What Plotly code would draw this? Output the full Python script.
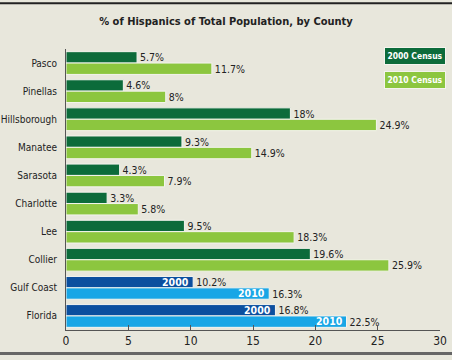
import plotly.graph_objects as go

counties = ["Pasco", "Pinellas", "Hillsborough", "Manatee", "Sarasota",
            "Charlotte", "Lee", "Collier", "Gulf Coast", "Florida"]
pct_2000 = [5.7, 4.6, 18, 9.3, 4.3, 3.3, 9.5, 19.6, 10.2, 16.8]
pct_2010 = [11.7, 8, 24.9, 14.9, 7.9, 5.8, 18.3, 25.9, 16.3, 22.5]
lbl_2000 = ["5.7%", "4.6%", "18%", "9.3%", "4.3%", "3.3%", "9.5%", "19.6%", "10.2%", "16.8%"]
lbl_2010 = ["11.7%", "8%", "24.9%", "14.9%", "7.9%", "5.8%", "18.3%", "25.9%", "16.3%", "22.5%"]
summary_rows = ["Gulf Coast", "Florida"]
x_ticks = [0, 5, 10, 15, 20, 25, 30]

DKGREEN, LTGREEN = "#0c6b3a", "#8cc63f"
DKBLUE, LTBLUE = "#0b4f9f", "#18a6e6"
BG = "#e8e7dc"
COND = "DejaVu Sans Condensed, DejaVu Sans, sans-serif"

c2000 = [DKBLUE if c in summary_rows else DKGREEN for c in counties]
c2010 = [LTBLUE if c in summary_rows else LTGREEN for c in counties]

fig = go.Figure()
fig.add_trace(go.Bar(
    y=counties, x=pct_2000, orientation="h", name="2000 Census",
    marker=dict(color=c2000, line=dict(color="#f4f4ee", width=1)),
    text=lbl_2000, textposition="outside", constraintext="none", cliponaxis=False,
    textfont=dict(family=COND, size=10.5, color="#222"),
))
fig.add_trace(go.Bar(
    y=counties, x=pct_2010, orientation="h", name="2010 Census",
    marker=dict(color=c2010, line=dict(color="#f4f4ee", width=1)),
    text=lbl_2010, textposition="outside", constraintext="none", cliponaxis=False,
    textfont=dict(family=COND, size=10.5, color="#222"),
))

annotations = []
for c, v0, v1 in zip(counties, pct_2000, pct_2010):
    if c in summary_rows:
        annotations.append(dict(x=v0, y=c, xref="x", yref="y", text="<b>2000</b>",
                                showarrow=False, xanchor="right", xshift=-2, yshift=5.5,
                                font=dict(family=COND, size=10.5, color="white")))
        annotations.append(dict(x=v1, y=c, xref="x", yref="y", text="<b>2010</b>",
                                showarrow=False, xanchor="right", xshift=-2, yshift=-5.5,
                                font=dict(family=COND, size=10.5, color="white")))

# legend boxes
annotations.append(dict(x=0.933, y=0.975, xref="paper", yref="paper", text="<b>2000 Census</b>",
                        xanchor="center", yanchor="middle",
                        showarrow=False, bgcolor=DKGREEN, bordercolor="#f4f4ee", borderwidth=1,
                        width=58, height=14, font=dict(family=COND, size=8.5, color="white")))
annotations.append(dict(x=0.933, y=0.89, xref="paper", yref="paper", text="<b>2010 Census</b>",
                        xanchor="center", yanchor="middle",
                        showarrow=False, bgcolor=LTGREEN, bordercolor="#f4f4ee", borderwidth=1,
                        width=58, height=14, font=dict(family=COND, size=8.5, color="white")))

shapes = [
    dict(type="line", xref="paper", yref="paper", x0=-0.18, x1=1.04, y0=1.163, y1=1.163,
         line=dict(color="#222", width=2)),
    dict(type="line", xref="paper", yref="paper", x0=-0.18, x1=1.04, y0=-0.084, y1=-0.084,
         line=dict(color="#666", width=3)),
]

fig.update_layout(
    width=452, height=360,
    margin=dict(l=66, r=12, t=49, b=30),
    paper_bgcolor=BG, plot_bgcolor=BG,
    barmode="group", bargap=0.19, bargroupgap=0.0,
    showlegend=False,
    title=dict(text="<b>% of Hispanics of Total Population, by County</b>",
               x=0.5, xanchor="center", y=0.94, yanchor="middle",
               font=dict(family=COND, size=11, color="#222")),
    xaxis=dict(range=[0, 30], tickvals=x_ticks, ticks="inside", ticklen=5,
               tickcolor="#555", showgrid=False, zeroline=False, automargin=False,
               showline=True, linecolor="#555", linewidth=1,
               tickfont=dict(family=COND, size=12, color="#222")),
    yaxis=dict(autorange="reversed", showgrid=False, showline=True, automargin=False,
               linecolor="#555", linewidth=1, ticks="", ticklabelstandoff=6,
               tickfont=dict(family=COND, size=10, color="#222")),
    annotations=annotations, shapes=shapes,
    font=dict(family=COND),
)

fig.write_html("out.html", config={"displayModeBar": False},
               post_script="document.body.style.margin='0';document.body.style.overflow='hidden';")
